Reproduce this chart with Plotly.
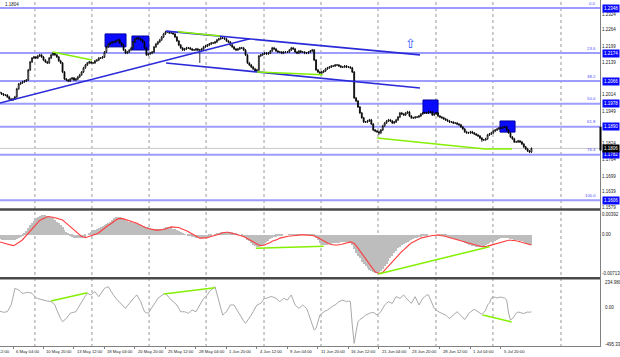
import plotly.graph_objects as go

# ---------------- data ----------------
CLOSE = [
 1.2020,1.2016,1.2012,1.2012,1.2005,1.1997,1.1993,1.1997,1.2005,1.2036,
 1.2055,1.2059,1.2063,1.2066,1.2070,1.2109,1.2140,1.2155,1.2159,1.2155,
 1.2163,1.2167,1.2159,1.2147,1.2140,1.2136,1.2155,1.2167,1.2174,1.2167,
 1.2159,1.2144,1.2136,1.2101,1.2074,1.2070,1.2066,1.2074,1.2078,1.2070,
 1.2074,1.2082,1.2090,1.2101,1.2117,1.2128,1.2136,1.2140,1.2136,1.2136,
 1.2144,1.2147,1.2155,1.2155,1.2159,1.2178,1.2198,1.2209,1.2213,1.2217,
 1.2217,1.2221,1.2225,1.2213,1.2205,1.2186,1.2174,1.2178,1.2186,1.2194,
 1.2217,1.2229,1.2232,1.2229,1.2225,1.2217,1.2194,1.2167,1.2171,1.2174,
 1.2178,1.2198,1.2209,1.2217,1.2225,1.2236,1.2248,1.2256,1.2256,1.2252,
 1.2252,1.2248,1.2236,1.2221,1.2205,1.2194,1.2186,1.2190,1.2194,1.2194,
 1.2190,1.2186,1.2186,1.2190,1.2186,1.2186,1.2190,1.2198,1.2201,1.2205,
 1.2209,1.2213,1.2213,1.2217,1.2225,1.2229,1.2232,1.2232,1.2229,1.2221,
 1.2217,1.2205,1.2198,1.2190,1.2186,1.2190,1.2194,1.2194,1.2186,1.2167,
 1.2136,1.2128,1.2120,1.2113,1.2105,1.2109,1.2163,1.2167,1.2171,1.2174,
 1.2171,1.2174,1.2182,1.2194,1.2190,1.2182,1.2178,1.2178,1.2174,1.2178,
 1.2178,1.2178,1.2186,1.2194,1.2190,1.2178,1.2174,1.2182,1.2178,1.2178,
 1.2174,1.2174,1.2178,1.2182,1.2186,1.2147,1.2109,1.2101,1.2097,1.2101,
 1.2105,1.2113,1.2117,1.2120,1.2124,1.2124,1.2128,1.2128,1.2124,1.2120,
 1.2120,1.2124,1.2120,1.2120,1.2117,1.2101,1.2001,1.1989,1.1966,1.1943,
 1.1924,1.1908,1.1908,1.1912,1.1916,1.1900,1.1877,1.1873,1.1870,1.1866,
 1.1877,1.1893,1.1904,1.1912,1.1916,1.1912,1.1904,1.1908,1.1916,1.1927,
 1.1943,1.1939,1.1935,1.1943,1.1947,1.1931,1.1924,1.1924,1.1927,1.1927,
 1.1931,1.1939,1.1943,1.1943,1.1943,1.1947,1.1947,1.1935,1.1939,1.1943,
 1.1931,1.1927,1.1924,1.1920,1.1916,1.1912,1.1908,1.1908,1.1904,1.1904,
 1.1900,1.1897,1.1889,1.1881,1.1870,1.1866,1.1866,1.1870,1.1866,1.1862,
 1.1858,1.1854,1.1846,1.1839,1.1839,1.1843,1.1858,1.1862,1.1866,1.1873,
 1.1877,1.1881,1.1885,1.1885,1.1889,1.1889,1.1877,1.1866,1.1850,1.1843,
 1.1831,1.1831,1.1835,1.1831,1.1823,1.1812,1.1804,1.1796,1.1792,1.1806,
]
OPEN_FIRST = 1.2024
WICK = 0.0004
LONG_LOW_WICKS = {105: 1.2136, 135: 1.2101, 199: 1.1858, 253: 1.1831}

MACD_HIST = [
 -.0008,-.0009,-.0009,-.0010,-.0010,-.0010,-.0010,-.0010,-.0009,-.0008,
 -.0006,-.0004,-.0001,.0003,.0008,.0013,.0018,.0023,.0027,.0031,
 .0034,.0036,.0038,.0038,.0037,.0036,.0035,.0034,.0031,.0028,
 .0025,.0022,.0018,.0014,.0010,.0006,.0002,-.0001,-.0003,-.0005,
 -.0006,-.0006,-.0006,-.0005,-.0004,-.0003,.0000,.0003,.0006,.0009,
 .0010,.0012,.0013,.0015,.0016,.0018,.0020,.0023,.0025,.0028,
 .0031,.0034,.0034,.0033,.0031,.0029,.0028,.0026,.0025,.0024,
 .0023,.0023,.0022,.0020,.0019,.0017,.0016,.0015,.0014,.0013,
 .0012,.0011,.0011,.0011,.0012,.0012,.0013,.0014,.0015,.0015,
 .0014,.0012,.0011,.0009,.0007,.0005,.0003,.0001,.0000,-.0001,
 -.0002,-.0003,-.0004,-.0005,-.0005,-.0006,-.0006,-.0005,-.0005,-.0004,
 -.0003,-.0002,.0000,.0001,.0003,.0004,.0005,.0006,.0006,.0006,
 .0006,.0005,.0005,.0004,.0002,.0001,.0000,-.0002,-.0004,-.0006,
 -.0009,-.0012,-.0016,-.0019,-.0021,-.0022,-.0022,-.0020,-.0018,-.0016,
 -.0013,-.0011,-.0008,-.0006,-.0004,-.0003,-.0002,-.0001,-.0001,.0000,
 .0000,.0000,.0001,.0001,.0001,.0001,.0001,.0001,.0001,.0001,
 .0001,.0001,.0001,.0001,.0001,-.0002,-.0006,-.0010,-.0015,-.0019,
 -.0019,-.0018,-.0018,-.0017,-.0017,-.0016,-.0016,-.0015,-.0015,-.0014,
 -.0014,-.0014,-.0014,-.0014,-.0015,-.0019,-.0026,-.0033,-.0039,-.0044,
 -.0050,-.0055,-.0059,-.0062,-.0065,-.0068,-.0070,-.0071,-.0071,-.0070,
 -.0067,-.0063,-.0059,-.0054,-.0049,-.0044,-.0039,-.0034,-.0030,-.0025,
 -.0022,-.0019,-.0017,-.0015,-.0013,-.0011,-.0009,-.0008,-.0006,-.0005,
 -.0004,-.0003,-.0002,-.0001,-.0001,.0000,.0000,.0000,.0000,.0000,
 .0000,-.0001,-.0001,-.0002,-.0003,-.0004,-.0005,-.0005,-.0006,-.0007,
 -.0009,-.0010,-.0012,-.0013,-.0015,-.0017,-.0018,-.0019,-.0020,-.0021,
 -.0022,-.0022,-.0022,-.0021,-.0020,-.0019,-.0017,-.0016,-.0014,-.0013,
 -.0011,-.0009,-.0008,-.0006,-.0006,-.0005,-.0005,-.0006,-.0007,-.0008,
 -.0009,-.0010,-.0010,-.0011,-.0012,-.0014,-.0016,-.0017,-.0018,-.0019,
]

MACD_SIGNAL = [
 -.0013,-.0014,-.0015,-.0016,-.0017,-.0018,-.0019,-.0020,-.0019,-.0017,
 -.0015,-.0012,-.0009,-.0005,-.0001,.0004,.0008,.0013,.0017,.0021,
 .0024,.0027,.0029,.0031,.0033,.0034,.0034,.0034,.0033,.0032,
 .0031,.0030,.0029,.0028,.0025,.0022,.0019,.0015,.0012,.0009,
 .0006,.0003,.0000,-.0003,-.0004,-.0005,-.0004,-.0003,-.0002,-.0001,
 .0000,.0002,.0004,.0007,.0010,.0013,.0015,.0018,.0020,.0023,
 .0026,.0028,.0030,.0031,.0031,.0030,.0029,.0028,.0027,.0026,
 .0025,.0024,.0022,.0020,.0018,.0016,.0014,.0013,.0012,.0011,
 .0010,.0010,.0009,.0009,.0009,.0009,.0010,.0011,.0013,.0014,
 .0015,.0015,.0015,.0015,.0014,.0012,.0011,.0009,.0008,.0006,
 .0004,.0002,.0000,-.0002,-.0004,-.0006,-.0006,-.0006,-.0005,-.0005,
 -.0004,-.0003,-.0003,-.0001,.0000,.0001,.0002,.0004,.0005,.0005,
 .0005,.0004,.0004,.0003,.0002,.0001,.0000,-.0001,-.0003,-.0005,
 -.0007,-.0009,-.0012,-.0014,-.0016,-.0018,-.0019,-.0020,-.0020,-.0019,
 -.0017,-.0016,-.0014,-.0012,-.0011,-.0010,-.0008,-.0006,-.0005,-.0004,
 -.0003,-.0003,-.0002,-.0002,-.0001,-.0001,-.0001,.0000,.0000,.0000,
 .0000,.0000,.0000,-.0001,-.0001,-.0002,-.0003,-.0005,-.0007,-.0009,
 -.0011,-.0014,-.0016,-.0017,-.0018,-.0019,-.0019,-.0019,-.0019,-.0018,
 -.0017,-.0016,-.0015,-.0014,-.0013,-.0014,-.0016,-.0020,-.0025,-.0030,
 -.0035,-.0040,-.0045,-.0049,-.0054,-.0059,-.0064,-.0069,-.0071,-.0072,
 -.0072,-.0070,-.0066,-.0062,-.0058,-.0053,-.0050,-.0046,-.0043,-.0039,
 -.0035,-.0031,-.0028,-.0024,-.0021,-.0018,-.0015,-.0013,-.0011,-.0009,
 -.0007,-.0006,-.0005,-.0004,-.0003,-.0002,-.0002,-.0001,-.0001,.0000,
 .0000,-.0001,-.0001,-.0002,-.0003,-.0004,-.0005,-.0006,-.0007,-.0008,
 -.0009,-.0010,-.0012,-.0013,-.0014,-.0015,-.0016,-.0017,-.0018,-.0019,
 -.0020,-.0021,-.0021,-.0022,-.0022,-.0022,-.0021,-.0020,-.0019,-.0018,
 -.0017,-.0016,-.0014,-.0013,-.0012,-.0011,-.0010,-.0010,-.0010,-.0010,
 -.0011,-.0011,-.0012,-.0013,-.0014,-.0015,-.0016,-.0017,-.0018,-.0019,
]

CCI = [
 -51,-60,-66,-62,-59,-20,20,110,215,205,
 195,175,156,160,165,168,162,156,130,105,
 95,88,80,75,70,66,62,59,40,20,
 -40,-98,-140,-176,-158,-137,-108,-78,-70,-64,
 -59,-20,20,60,98,128,156,146,137,160,
 176,145,117,150,185,215,225,234,195,156,
 127,98,72,46,20,0,-20,10,39,68,
 98,118,137,98,59,0,-59,-70,-78,-40,
 -10,20,60,98,118,137,148,156,127,98,
 78,59,40,20,-20,-59,-59,-59,-68,-78,
 -58,-39,-49,-59,-20,20,60,98,117,137,
 176,200,215,234,146,59,-20,-98,-78,-59,
 -20,20,20,20,-20,-59,-98,-137,-166,-195,
 -166,-137,-98,-59,-20,20,30,39,68,98,
 98,108,117,117,108,98,78,59,78,98,
 88,78,108,137,78,20,0,-20,0,20,
 0,-20,-78,-137,-205,-273,-254,-176,-98,-78,
 -59,-49,-39,-20,0,10,20,40,59,68,
 78,68,59,68,59,-215,-429,-293,-176,-150,
 -137,-120,-100,-85,-78,-70,-66,-82,-98,-78,
 -59,-20,20,40,59,49,39,78,117,108,
 98,117,137,108,78,59,39,78,117,68,
 20,59,98,117,137,137,78,20,-20,-40,
 -59,-68,-78,-88,-98,-118,-137,-118,-98,-78,
 -59,-80,-100,-125,-150,-120,-80,-62,-40,-30,
 -45,-60,-80,-90,-70,-40,20,43,100,113,
 110,100,110,113,105,100,80,-74,-156,-140,
 -110,-75,-62,-65,-75,-80,-70,-62,-65,-60,
]

FIB_LEVELS = [1.2348, 1.2174, 1.2066, 1.1978, 1.1890, 1.1782, 1.1606]
FIB_NAMES = ["0.0", "23.6", "38.2", "50.0", "61.8", "76.4", "100.0"]
PRICE_TICKS = [1.2324, 1.2264, 1.2199, 1.2139, 1.2014, 1.1949, 1.1824, 1.1764, 1.1699, 1.1639, 1.1579]
LAST_PRICE = 1.1806
HEADER_TEXT = "1.1804"

MACD_TICKS = [0.00392, 0.0, -0.00713]
MACD_TICK_TEXT = ["0.00392", "0.00", "-0.00713"]
CCI_LABELS = ["234.9801", "0.00", "-495.331"]

DATE_TICK_BARS = [-9, 7, 23, 39, 55, 71, 87, 103, 119, 135, 151, 167, 183, 199, 215, 231, 247, 263]
DATE_LABELS = ["3 May 12:00", "6 May 04:00", "10 May 20:00", "13 May 12:00", "18 May 04:00",
               "20 May 20:00", "25 May 12:00", "28 May 04:00", "1 Jun 20:00", "4 Jun 12:00",
               "9 Jun 04:00", "11 Jun 20:00", "16 Jun 12:00", "21 Jun 04:00", "23 Jun 20:00",
               "28 Jun 12:00", "1 Jul 04:00", "5 Jul 20:00"]
GRID_BARS = [18.5, 48.4, 78.4, 108.3, 138.7, 168.6, 198.5, 228.9, 258.8, 294.5]

# drawn objects (bar index, value)
TREND_LINES = [((0.18, 1.1981), (131.3, 1.2229)),
               ((87.3, 1.2259), (220.5, 1.2167)),
               ((87.3, 1.2136), (220.5, 1.2039))]
GREEN_PRICE = [((27.8, 1.2178), (48.4, 1.2147)),
               ((93.6, 1.2256), (115.6, 1.2240)),
               ((135.0, 1.2101), (169.6, 1.2090)),
               ((198.0, 1.1846), (254.6, 1.1804)),
               ((254.6, 1.1804), (268.8, 1.1804))]
GREEN_MACD = [((134.4, -0.0025), (170.0, -0.0021)),
              ((198.7, -0.0073), (257.0, -0.0022))]
GREEN_CCI = [((27.0, 67), (46.0, 164)),
             ((86.1, 148), (113.0, 222)),
             ((253.4, -97), (268.6, -179))]
BLUE_BOXES = [((55.3, 1.2198), (66.3, 1.2248)),
              ((69.4, 1.2186), (78.3, 1.2240)),
              ((222.1, 1.1943), (230.0, 1.1993)),
              ((262.5, 1.1869), (270.4, 1.1912))]
ARROW_POS = (215.3, 1.2213)

# ---------------- layout helpers ----------------
W, H = 620, 357
XMIN, XMAX = 0.18, 315.5
DOM_R = 601 / W
FONT = "Liberation Sans"
TXT = 4.5
DATE_TXT = 4.2


def px_x(b):
    return (b - XMIN) / (XMAX - XMIN) * DOM_R


def py(p):
    return 1 - p / H


n = len(CLOSE)
bars = list(range(n))
opens = [OPEN_FIRST] + CLOSE[:-1]
highs = [max(o, c) + WICK for o, c in zip(opens, CLOSE)]
lows = [LONG_LOW_WICKS.get(i, min(o, c) - WICK) for i, (o, c) in enumerate(zip(opens, CLOSE))]

fig = go.Figure()
fig.add_trace(go.Candlestick(
    x=bars, open=opens, high=highs, low=lows, close=CLOSE,
    increasing=dict(line=dict(color="#000000", width=0.8), fillcolor="#ffffff"),
    decreasing=dict(line=dict(color="#000000", width=0.8), fillcolor="#000000"),
    whiskerwidth=0, xaxis="x", yaxis="y", hoverinfo="skip"))
fig.add_trace(go.Bar(x=bars, y=MACD_HIST, width=0.5, marker=dict(color="#bdbdbd", line=dict(width=0)),
                     xaxis="x2", yaxis="y2", hoverinfo="skip"))
fig.add_trace(go.Scatter(x=bars, y=MACD_SIGNAL, mode="lines", line=dict(color="#ff3c3c", width=1.1),
                         xaxis="x2", yaxis="y2", hoverinfo="skip"))
fig.add_trace(go.Scatter(x=bars, y=CCI, mode="lines", line=dict(color="#a8a8a8", width=1),
                         xaxis="x3", yaxis="y3", hoverinfo="skip"))

shapes = []
for gx in GRID_BARS:
    shapes.append(dict(type="line", xref="x", yref="paper", x0=gx, x1=gx, y0=py(347), y1=1,
                       line=dict(color="#9a9a9a", width=1, dash="dot"), layer="below"))
for lv in FIB_LEVELS:
    shapes.append(dict(type="line", xref="x domain", yref="y", x0=0, x1=1, y0=lv, y1=lv,
                       line=dict(color="#9d9dff", width=2), layer="below"))
shapes.append(dict(type="line", xref="x domain", yref="y", x0=0, x1=1, y0=LAST_PRICE, y1=LAST_PRICE,
                   line=dict(color="#c8c8c8", width=1), layer="below"))
for (x0, y0), (x1, y1) in BLUE_BOXES:
    shapes.append(dict(type="rect", xref="x", yref="y", x0=x0, x1=x1, y0=y0, y1=y1,
                       fillcolor="#0a0aff", line=dict(color="#0000a0", width=1), layer="below"))
for (x0, y0), (x1, y1) in TREND_LINES:
    shapes.append(dict(type="line", xref="x", yref="y", x0=x0, x1=x1, y0=y0, y1=y1,
                       line=dict(color="#2a2ad8", width=1.6)))
for (x0, y0), (x1, y1) in GREEN_PRICE:
    shapes.append(dict(type="line", xref="x", yref="y", x0=x0, x1=x1, y0=y0, y1=y1,
                       line=dict(color="#84f000", width=1.5)))
for (x0, y0), (x1, y1) in GREEN_MACD:
    shapes.append(dict(type="line", xref="x2", yref="y2", x0=x0, x1=x1, y0=y0, y1=y1,
                       line=dict(color="#84f000", width=1.5)))
for (x0, y0), (x1, y1) in GREEN_CCI:
    shapes.append(dict(type="line", xref="x3", yref="y3", x0=x0, x1=x1, y0=y0, y1=y1,
                       line=dict(color="#84f000", width=1.5)))
for sy in (209.5, 278.2):
    shapes.append(dict(type="line", xref="paper", yref="paper", x0=0, x1=DOM_R, y0=py(sy), y1=py(sy),
                       line=dict(color="#4a4a4a", width=2.4)))
shapes.append(dict(type="line", xref="paper", yref="paper", x0=0, x1=DOM_R, y0=py(346.5), y1=py(346.5),
                   line=dict(color="#808080", width=1)))
shapes.append(dict(type="line", xref="paper", yref="paper", x0=600.5 / W, x1=600.5 / W, y0=py(347), y1=1,
                   line=dict(color="#808080", width=1)))
shapes.append(dict(type="line", xref="paper", yref="y", x0=600.5 / W, x1=600.5 / W,
                   y0=1.1890, y1=LAST_PRICE - 0.0008, line=dict(color="#000000", width=2)))

ann = []
small = dict(family=FONT, size=TXT, color="#222222")
ann.append(dict(text=HEADER_TEXT, x=3 / W, y=py(5), xref="paper", yref="paper", xanchor="left",
                yanchor="middle", showarrow=False, font=small))
for lv, name in zip(FIB_LEVELS, FIB_NAMES):
    ann.append(dict(text=name, x=598 / W, y=lv, xref="paper", yref="y", xanchor="right", yanchor="bottom",
                    yshift=0.5, showarrow=False, font=dict(family=FONT, size=4.3, color="#4a4aff")))
    ann.append(dict(text=f"{lv:.4f}", x=601.5 / W, y=lv, xref="paper", yref="y", xanchor="left",
                    yanchor="middle", showarrow=False, bgcolor="#0a0aff", borderpad=1,
                    font=dict(family=FONT, size=TXT, color="#ffffff")))
ann.append(dict(text=f"{LAST_PRICE:.4f}", x=601.5 / W, y=LAST_PRICE, xref="paper", yref="y", xanchor="left",
                yanchor="middle", showarrow=False, bgcolor="#000000", borderpad=1,
                font=dict(family=FONT, size=TXT, color="#ffffff")))
for txt, ypx in zip(CCI_LABELS, (282, 307, 344.5)):
    ann.append(dict(text=txt, x=602.5 / W, y=py(ypx), xref="paper", yref="paper", xanchor="left",
                    yanchor="middle", showarrow=False, font=small))
for b, txt in zip(DATE_TICK_BARS, DATE_LABELS):
    ann.append(dict(text=txt, x=px_x(b) + 1 / W, y=py(351.5), xref="paper", yref="paper", xanchor="left",
                    yanchor="middle", showarrow=False, font=dict(family=FONT, size=DATE_TXT, color="#222222")))
ann.append(dict(text="⇧", x=ARROW_POS[0], y=ARROW_POS[1], xref="x", yref="y", showarrow=False,
                font=dict(family="DejaVu Sans", size=13, color="#2f55ff")))

xcommon = dict(range=[XMIN, XMAX], domain=[0, DOM_R], showgrid=False, zeroline=False,
               showline=False, showticklabels=False, fixedrange=True)
fig.update_layout(
    width=W, height=H, margin=dict(l=0, r=0, t=0, b=0), template="none",
    paper_bgcolor="#ffffff", plot_bgcolor="#ffffff", showlegend=False, bargap=0,
    font=dict(family=FONT, size=TXT, color="#222222"),
    xaxis=dict(anchor="y", rangeslider=dict(visible=False), ticks="", **xcommon),
    xaxis2=dict(anchor="y2", matches="x", ticks="", **xcommon),
    xaxis3=dict(anchor="y3", matches="x", tickvals=DATE_TICK_BARS, ticks="outside", ticklen=2,
                tickcolor="#808080", **xcommon),
    yaxis=dict(domain=[py(208), 1], range=[1.1576, 1.2379], side="right", anchor="x",
               tickvals=PRICE_TICKS, ticktext=[f"{v:.4f}" for v in PRICE_TICKS],
               tickfont=dict(family=FONT, size=TXT, color="#222222"), ticks="",
               showgrid=False, zeroline=False, showline=False, automargin=False),
    yaxis2=dict(domain=[py(277), py(211)], range=[-0.00788, 0.00448], side="right", anchor="x2",
                tickvals=MACD_TICKS, ticktext=MACD_TICK_TEXT,
                tickfont=dict(family=FONT, size=TXT, color="#222222"), ticks="",
                showgrid=False, zeroline=False, showline=False, automargin=False),
    yaxis3=dict(domain=[py(346), py(279)], range=[-460, 324], side="right", anchor="x3",
                showticklabels=False, ticks="", showgrid=False, zeroline=False, showline=False,
                automargin=False),
    shapes=shapes, annotations=ann,
)
fig.write_html("out.html", config={"displayModeBar": False},
               post_script="document.body.style.margin='0';document.body.style.overflow='hidden';")
